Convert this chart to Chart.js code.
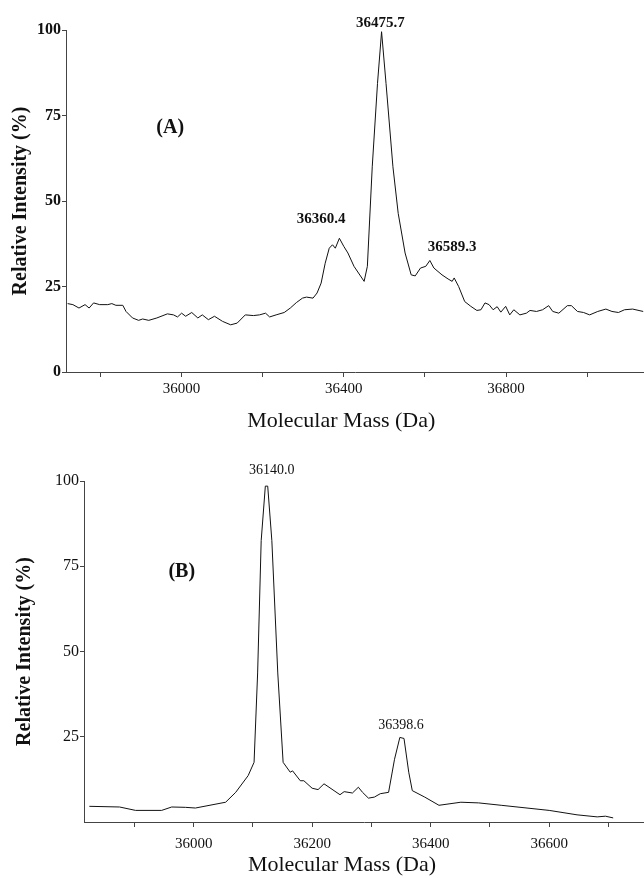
<!DOCTYPE html>
<html>
<head>
<meta charset="utf-8">
<script src="https://cdn.jsdelivr.net/npm/chart.js@4.4.0/dist/chart.umd.min.js"></script>
<style>
  body { margin: 0; background: #fff; }
  canvas { position: absolute; left: 0; }
</style>
</head>
<body>
<canvas id="chartA" width="644" height="440" style="top:0"></canvas>
<canvas id="chartB" width="644" height="438" style="top:440px"></canvas>
<script>
const SERIF = '"Liberation Serif", "Times New Roman", serif';

// Panel A spectrum (mass in Da, relative intensity in %)
const massA = [35719, 35732, 35747, 35762, 35772, 35783, 35798, 35818, 35828, 35838, 35855, 35863, 35879, 35894,
  35904, 35919, 35939, 35965, 35980, 35990, 36000, 36010, 36025, 36040, 36051, 36066, 36081, 36101, 36121,
  36137, 36157, 36177, 36192, 36207, 36217, 36233, 36253, 36268, 36283, 36298, 36308, 36324, 36334, 36344,
  36354, 36364, 36372, 36379, 36389, 36400, 36410, 36425, 36450, 36458, 36470, 36483, 36493, 36504, 36521,
  36534, 36551, 36566, 36576, 36589, 36602, 36612, 36622, 36642, 36657, 36667, 36672, 36683, 36698, 36713,
  36728, 36738, 36748, 36758, 36768, 36778, 36787, 36799, 36809, 36819, 36834, 36850, 36859, 36875, 36890,
  36905, 36915, 36930, 36951, 36961, 36976, 36991, 37006, 37026, 37046, 37061, 37077, 37092, 37112, 37138];
const intensityA = [20.0, 19.7, 18.7, 19.7, 18.7, 20.2, 19.7, 19.7, 20.0, 19.5, 19.5, 17.7, 15.8, 15.1,
  15.5, 15.1, 15.8, 17.0, 16.7, 16.1, 17.2, 16.3, 17.4, 15.8, 16.7, 15.3, 16.3, 14.8, 13.8,
  14.3, 16.7, 16.5, 16.7, 17.2, 16.1, 16.7, 17.4, 18.7, 20.3, 21.6, 21.9, 21.6, 23.1, 26.0,
  31.8, 36.2, 37.2, 36.2, 39.1, 36.7, 34.8, 30.9, 26.5, 30.9, 60.0, 84.4, 99.5, 84.4, 60.0,
  46.4, 34.8, 28.4, 28.1, 30.4, 30.9, 32.6, 30.4, 28.4, 27.2, 26.5, 27.5, 25.0, 20.6, 19.2,
  18.0, 18.2, 20.2, 19.7, 18.2, 19.1, 17.5, 19.2, 16.7, 18.2, 16.7, 17.2, 18.0, 17.7, 18.2,
  19.4, 17.7, 17.2, 19.4, 19.4, 17.7, 17.4, 16.7, 17.7, 18.4, 17.7, 17.4, 18.2, 18.4, 17.7];

// Panel B spectrum
const massB = [35824, 35875, 35902, 35946, 35963, 35986, 36003, 36054, 36071, 36092, 36102, 36108, 36114,
  36121, 36125, 36132, 36142, 36151, 36163, 36167, 36180, 36186, 36200, 36210, 36220, 36247, 36254, 36268,
  36278, 36285, 36295, 36305, 36315, 36329, 36339, 36348, 36355, 36363, 36369, 36390, 36414, 36451, 36481,
  36519, 36600, 36647, 36681, 36695, 36708];
const intensityB = [4.6, 4.4, 3.4, 3.4, 4.4, 4.3, 4.1, 5.8, 8.7, 13.6, 17.5, 43.7, 82.5,
  98.5, 98.5, 82.5, 43.7, 17.5, 14.6, 15.0, 12.1, 12.1, 9.9, 9.5, 11.2, 8.0, 8.9, 8.5,
  10.2, 8.7, 7.0, 7.3, 8.3, 8.7, 18.4, 24.8, 24.5, 14.6, 9.2, 7.3, 4.9, 5.8, 5.6,
  4.9, 3.4, 2.1, 1.5, 1.7, 1.2];

// axis ticks
const xTicksA = [35800, 36000, 36200, 36400, 36600, 36800, 37000];
const xTicksB = [35900, 36000, 36100, 36200, 36300, 36400, 36500, 36600, 36700];
const yTicksA = [0, 25, 50, 75, 100];
const yTicksB = [25, 50, 75, 100];

// peak labels, placed in data units
const notesA = ['36475.7', '36360.4', '36589.3'];
const notesAX = [36490, 36344, 36667];
const notesAY = [102, 44.8, 36.5];
const notesB = ['36140.0', '36398.6'];
const notesBX = [36132, 36350];
const notesBY = [103, 28.3];

// draws text at data coordinates
const peakNotes = {
  id: 'peakNotes',
  afterDatasetsDraw(chart, args, opts) {
    const { ctx, scales: { x, y } } = chart;
    ctx.save();
    ctx.fillStyle = '#111';
    ctx.textAlign = 'center';
    ctx.textBaseline = 'middle';
    ctx.font = opts.font;
    opts.text.forEach((t, i) => ctx.fillText(t, x.getPixelForValue(opts.x[i]), y.getPixelForValue(opts.y[i])));
    ctx.font = 'bold 20px ' + SERIF;
    ctx.fillText(opts.panel, x.getPixelForValue(opts.panelX), y.getPixelForValue(opts.panelY));
    ctx.restore();
  }
};

function spectrumChart(id, mass, intensity, s) {
  return new Chart(document.getElementById(id), {
    type: 'line',
    data: {
      datasets: [{
        data: mass.map((m, i) => ({ x: m, y: intensity[i] })),
        borderColor: '#111', borderWidth: 1, pointRadius: 0, tension: 0, fill: false
      }]
    },
    options: {
      responsive: false,
      animation: false,
      events: [],
      layout: { padding: { top: s.top, right: 0, bottom: 0, left: 0 } },
      plugins: { legend: { display: false }, tooltip: { enabled: false }, peakNotes: s.notes },
      scales: {
        x: {
          type: 'linear', min: s.xMin, max: s.xMax,
          afterBuildTicks: sc => { sc.ticks = s.xTicks.map(v => ({ value: v })); },
          afterFit: sc => { sc.height = s.xHeight; },
          ticks: {
            autoSkip: false, maxRotation: 0, padding: s.xTickPad, color: '#111',
            font: { family: SERIF, size: 15 },
            callback: v => v % s.labelEvery === 0 ? String(v) : ''
          },
          grid: { drawOnChartArea: false, tickLength: 5, color: '#444' },
          border: { color: '#444', width: 1 },
          title: {
            // trailing spaces pull the centred title a little left, as in the print
            display: true, text: 'Molecular Mass (Da)' + ' '.repeat(s.titleShift), color: '#111',
            font: { family: SERIF, size: 22 }, padding: { top: 0, bottom: s.xTitlePad }
          }
        },
        y: {
          min: 0, max: 100,
          afterBuildTicks: sc => { sc.ticks = s.yTicks.map(v => ({ value: v })); },
          afterFit: sc => { sc.width = s.yWidth; },
          ticks: {
            padding: 1, color: '#111',
            font: { family: SERIF, size: 16, weight: s.yBold ? 'bold' : 'normal' },
            callback: v => String(v)
          },
          grid: { drawOnChartArea: false, tickLength: 4, color: '#444' },
          border: { color: '#444', width: 1 },
          title: {
            display: true, text: 'Relative Intensity (%)', color: '#111',
            font: { family: SERIF, size: 20, weight: 'bold' }, padding: { top: s.titlePad, bottom: 0 }
          }
        }
      }
    },
    plugins: [peakNotes]
  });
}

spectrumChart('chartA', massA, intensityA, {
  top: 30, xMin: 35715, xMax: 37140, xTicks: xTicksA, yTicks: yTicksA, labelEvery: 400,
  xHeight: 68, yWidth: 66, yBold: true, titlePad: 9, xTickPad: 3, xTitlePad: 6, titleShift: 5,
  notes: { text: notesA, x: notesAX, y: notesAY, font: 'bold 15px ' + SERIF,
           panel: '(A)', panelX: 35972, panelY: 71.5 }
});

spectrumChart('chartB', massB, intensityB, {
  top: 41, xMin: 35815, xMax: 36760, xTicks: xTicksB, yTicks: yTicksB, labelEvery: 200,
  xHeight: 56, yWidth: 84, yBold: false, titlePad: 13, xTickPad: 8, xTitlePad: 0, titleShift: 8,
  notes: { text: notesB, x: notesBX, y: notesBY, font: '14px ' + SERIF,
           panel: '(B)', panelX: 35980, panelY: 73.3 }
});
</script>
</body>
</html>
